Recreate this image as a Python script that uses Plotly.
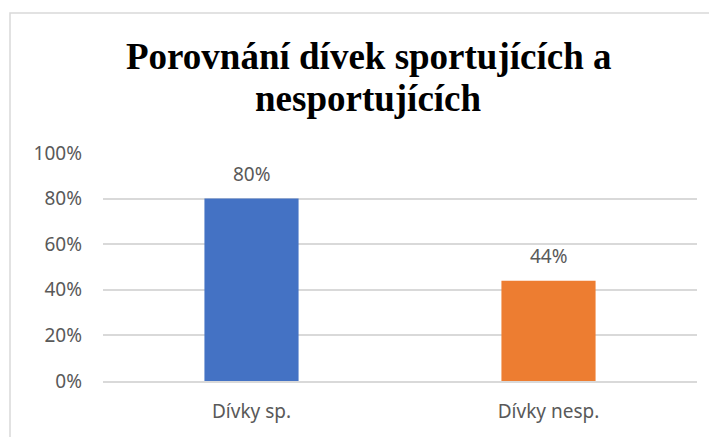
import plotly.graph_objects as go

categories = ["Dívky sp.", "Dívky nesp."]
values = [0.80, 0.44]
labels = ["80%", "44%"]
colors = ["#4472C4", "#ED7D31"]
title_lines = ["Porovnání dívek sportujících a", "nesportujících"]

# page body adds an 8px margin; target coordinates below are window pixels
O = 8
W, H = 717, 437
L, T = 103 - O, 153 - O
pw, ph = 594, 228
R, B = W - L - pw, H - T - ph

def px_x(x):
    return (x - O - L) / pw

def px_y(y):
    return (T + ph - (y - O)) / ph

fig = go.Figure()
fig.add_trace(go.Bar(x=categories, y=values, marker=dict(color=colors, line=dict(width=0)),
                     width=0.317, hoverinfo="skip"))

ann = []
for c, v, t in zip(categories, values, labels):
    ann.append(dict(x=c, y=v, xref="x", yref="y", text=t, showarrow=False,
                    yanchor="middle", yshift=25,
                    font=dict(family="Noto Sans", size=19, color="#595959")))
for i, line in enumerate(title_lines):
    ann.append(dict(x=px_x(368.5), y=px_y([56.5, 98.5][i]), xref="paper", yref="paper",
                    text=f"<b>{line}</b>", showarrow=False, xanchor="center", yanchor="middle",
                    font=dict(family="Liberation Serif", size=37, color="#000000")))

fig.update_layout(
    width=W, height=H,
    margin=dict(l=L, r=R, t=T, b=B, pad=0),
    paper_bgcolor="white", plot_bgcolor="white",
    showlegend=False,
    annotations=ann,
    shapes=[dict(type="rect", xref="paper", yref="paper",
                 x0=px_x(10), x1=px_x(760), y0=px_y(480), y1=px_y(13),
                 line=dict(color="#d9d9d9", width=1.5), layer="below")],
    xaxis=dict(showgrid=False, showline=True, linecolor="#d9d9d9", linewidth=1.5,
               ticks="", ticklabelstandoff=12,
               tickfont=dict(family="Noto Sans", size=19, color="#595959")),
    yaxis=dict(range=[0, 1.0001], dtick=0.2, tickformat=".0%", showgrid=True,
               gridcolor="#d9d9d9", gridwidth=1.5, zeroline=False, showline=False,
               ticks="", ticklabelstandoff=20,
               tickfont=dict(family="Noto Sans", size=19, color="#595959")),
)

fig.write_html("out.html")
